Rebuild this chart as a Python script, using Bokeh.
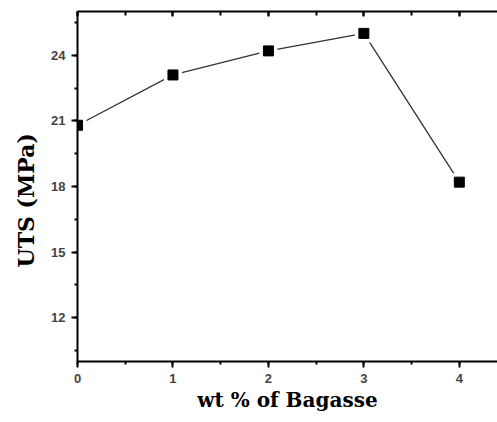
from bokeh.plotting import figure
from bokeh.models import Range1d, LinearAxis, FixedTicker, Title
from bokeh.embed import file_html
from bokeh.resources import INLINE

# Data
wt_bagasse = [0, 1, 2, 3, 4]
uts_mpa = [20.8, 23.1, 24.2, 25.0, 18.2]

x_major = [0, 1, 2, 3, 4]
x_minor = [0.5, 1.5, 2.5, 3.5, 4.5]
y_major = [12, 15, 18, 21, 24]
y_minor = [10.5, 13.5, 16.5, 19.5, 22.5, 25.5]

p = figure(width=497, height=422, output_backend="svg", toolbar_location=None,
           x_range=Range1d(0, 4.40), y_range=Range1d(10, 26),
           min_border_left=77, min_border_right=0, min_border_top=11, min_border_bottom=61)
p.outline_line_color = None
p.grid.visible = False
p.background_fill_color = "white"

p.line(wt_bagasse, uts_mpa, line_color="#333333", line_width=1.3)
p.scatter(wt_bagasse, uts_mpa, marker="square", size=18, fill_color="white", line_color=None)
p.scatter(wt_bagasse, uts_mpa, marker="square", size=10, fill_color="black", line_color="black")

tick_font = "Liberation Sans"
title_font = "DejaVu Serif"

xa = p.xaxis[0]
xa.ticker = FixedTicker(ticks=x_major, minor_ticks=x_minor + x_major)
xa.axis_label = "wt % of Bagasse"
ya = p.yaxis[0]
ya.ticker = FixedTicker(ticks=y_major, minor_ticks=y_minor + y_major)

for ax in (xa, ya):
    ax.axis_line_width = 2
    ax.axis_line_color = "black"
    ax.major_tick_line_width = 2
    ax.minor_tick_line_width = 2
    ax.major_tick_in = 0
    ax.minor_tick_in = 0
    ax.major_tick_out = 6
    ax.minor_tick_out = 3
    ax.major_label_text_font = tick_font
    ax.major_label_text_font_size = "13px"
    ax.major_label_text_font_style = "bold"
    ax.major_label_text_color = "#444444"
    ax.axis_label_text_font = title_font
    ax.axis_label_text_font_style = "bold"
    ax.axis_label_text_font_size = "20px"
    ax.axis_label_text_color = "black"

xa.major_label_standoff = 6
xa.axis_label_standoff = 2
ya.major_label_standoff = 6

ytitle = Title(text="UTS (MPa)", align="left", offset=94, standoff=20,
               text_font=title_font, text_font_style="bold", text_font_size="22px",
               text_color="black")
p.add_layout(ytitle, "left")

top = LinearAxis(ticker=FixedTicker(ticks=x_major, minor_ticks=x_minor + x_major))
top.axis_line_width = 2
top.axis_line_color = "black"
top.major_tick_line_width = 2
top.minor_tick_line_width = 2
top.major_tick_in = 5
top.major_tick_out = 0
top.minor_tick_in = 4
top.minor_tick_out = 0
top.major_label_overrides = {t: "" for t in x_major}
top.major_label_standoff = 0
p.add_layout(top, "above")

open("out.html", "w").write(file_html(p, INLINE))
